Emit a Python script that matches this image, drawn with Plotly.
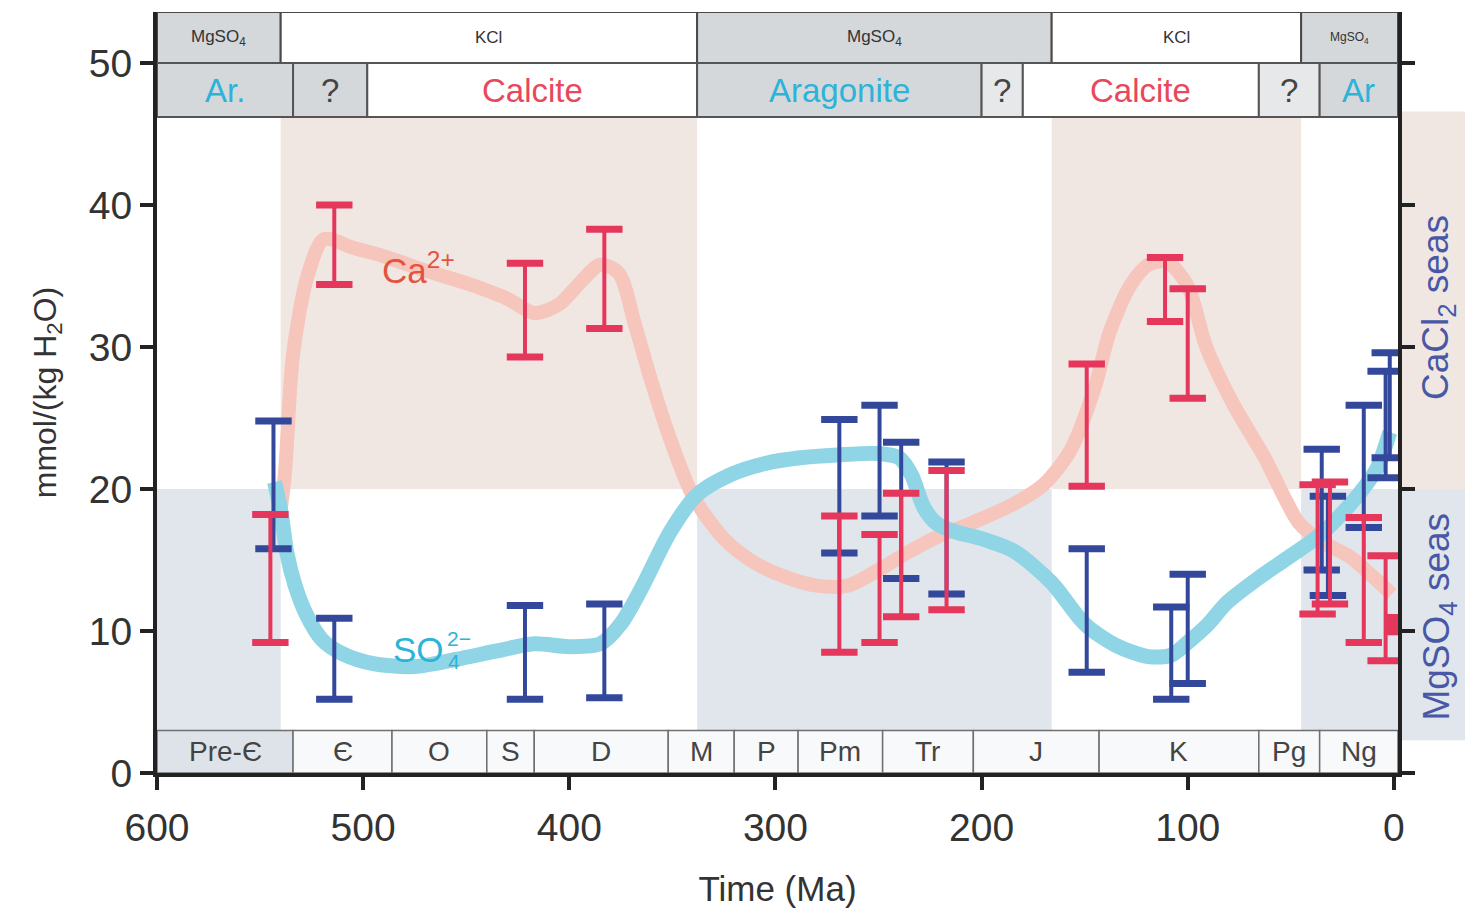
import plotly.graph_objects as go

# ---------------- data ----------------
# smooth model curves (Time in Ma, mmol/kg H2O)
ca_curve_t = [541, 538, 534, 527, 519, 505, 490, 470, 450, 430, 417, 405, 395, 385, 376, 368, 360, 351, 340,
              325, 310, 295, 280, 265, 250, 235, 222, 205, 185, 170, 157, 145, 138, 128, 119, 110, 100, 91,
              78, 63, 46, 35, 21, 10, 1]
ca_curve_v = [17.5, 21, 29.5, 35, 37.6, 37.0, 36.4, 35.4, 34.5, 33.4, 32.4, 33.0, 34.5, 35.8, 35.2, 31.5, 27.5,
              23.5, 19.5, 16.5, 14.8, 13.8, 13.2, 13.2, 14.3, 15.6, 16.6, 17.6, 18.9, 20.3, 22.7, 27.2, 31,
              34.3, 35.8, 36.0, 34.3, 30, 26, 22.3, 17.6, 16.3, 15.2, 13.8, 12.6]

so4_curve_t = [543, 540, 537, 533, 528, 520, 510, 495, 475, 455, 435, 417, 400, 385, 375, 365, 351, 338, 322,
               305, 288, 270, 250, 240, 234, 228, 222, 213, 200, 184, 166, 150, 135, 119, 108, 100, 90, 81,
               65, 53, 40, 34, 25, 15, 8, 2]
so4_curve_v = [20.5, 18.5, 15.5, 13.2, 11.3, 9.4, 8.4, 7.7, 7.5, 8.0, 8.6, 9.1, 8.9, 9.1, 10.5, 13, 17, 19.6,
               21, 21.8, 22.2, 22.4, 22.5, 22.2, 21, 18.7, 17.6, 17.0, 16.5, 15.6, 13.4, 10.5, 9.0, 8.2, 8.3,
               9.2, 10.5, 12, 13.8, 15, 16.3, 17, 18.3, 20, 21.5, 24.0]

# data error bars (low / high)
ca_bar_t = [545, 514, 421.5, 383, 269, 249.5, 239, 217, 149, 111, 100, 37, 31, 14.6, 4]
ca_bar_lo = [9.2, 34.4, 29.3, 31.3, 8.5, 9.2, 11.0, 11.5, 20.2, 31.8, 26.4, 11.2, 11.9, 9.2, 7.9]
ca_bar_hi = [18.2, 40.0, 35.9, 38.3, 18.1, 16.8, 19.7, 21.3, 28.8, 36.3, 34.1, 20.3, 20.5, 18.0, 15.3]

ca_box_t = [1]
ca_box_lo = [9.7]
ca_box_hi = [11.2]

so4_bar_t = [543.5, 514, 421.5, 383, 269, 249.5, 239, 217, 149, 108, 100, 35, 32, 14.6, 4, 2]
so4_bar_lo = [15.8, 5.2, 5.2, 5.3, 15.5, 18.1, 13.7, 12.6, 7.1, 5.2, 6.3, 14.3, 12.5, 17.3, 20.8, 22.2]
so4_bar_hi = [24.8, 10.9, 11.8, 11.9, 24.9, 25.9, 23.3, 21.9, 15.8, 11.7, 14.0, 22.8, 19.5, 25.9, 28.3, 29.6]

# top bands: evaporite salt type and carbonate mineralogy
salt_edges = [600, 540, 338, 166, 45, -2]
salt_labels = ["MgSO<sub>4</sub>", "KCl", "MgSO<sub>4</sub>", "KCl", "MgSO<sub>4</sub>"]
mineral_edges = [600, 534, 498, 338, 200, 180, 65.5, 36, -2]
mineral_labels = ["Ar.", "?", "Calcite", "Aragonite", "?", "Calcite", "?", "Ar"]

# geologic periods
period_edges = [600, 534, 486, 440, 417, 352, 320, 289, 248, 204, 143, 65.5, 36, -2]
period_labels = ["Pre-Є", "Є", "O", "S", "D", "M", "P", "Pm", "Tr", "J", "K", "Pg", "Ng"]

# sea-type shading intervals (Ma)
cacl2_intervals = [(540, 338), (166, 45)]
mgso4_intervals = [(600, 540), (338, 166), (45, -2)]

x_ticks = [600, 500, 400, 300, 200, 100, 0]
y_ticks = [0, 10, 20, 30, 40, 50]

# ---------------- styling ----------------
FONT = "Liberation Sans, Arial, Helvetica, sans-serif"
RED = "#e5365c"
BLUE = "#33479b"
CYAN_TXT = "#2bb3d8"
RED_TXT = "#e9475a"
CA_LINE = "#f6c5bb"
SO4_LINE = "#8fd5e6"
BEIGE = "#f0e7e3"
GREYBLUE = "#e0e6eb"
CELL_GREY = "#d4d8db"
CELL_LIGHT = "#e6e8ea"

Y_TOP = 53.6
ROW1 = (50, Y_TOP)
ROW2 = (46.2, 50)
PBAR = (0, 3.0)

fig = go.Figure()
shapes = []
annotations = []

# background shading
for a, b in cacl2_intervals:
    shapes.append(dict(type="rect", xref="x", yref="y", x0=a, x1=b, y0=20, y1=ROW2[0],
                       fillcolor=BEIGE, line=dict(width=0), layer="below"))
for a, b in mgso4_intervals:
    shapes.append(dict(type="rect", xref="x", yref="y", x0=a, x1=b, y0=PBAR[1], y1=20,
                       fillcolor=GREYBLUE, line=dict(width=0), layer="below"))
# shading behind right-hand labels
shapes.append(dict(type="rect", xref="paper", yref="y", x0=1.0, x1=1.1, y0=20, y1=46.6,
                   fillcolor=BEIGE, line=dict(width=0), layer="below"))
shapes.append(dict(type="rect", xref="paper", yref="y", x0=1.0, x1=1.1, y0=2.3, y1=20,
                   fillcolor=GREYBLUE, line=dict(width=0), layer="below"))

# top row 1: salts
for i, lab in enumerate(salt_labels):
    a, b = salt_edges[i], salt_edges[i + 1]
    fill = CELL_GREY if "MgSO" in lab else "white"
    shapes.append(dict(type="rect", xref="x", yref="y", x0=a, x1=b, y0=ROW1[0], y1=ROW1[1],
                       fillcolor=fill, line=dict(color="#4a4a4a", width=2), layer="below"))
    size = 12 if (a - b) < 60 else 17
    annotations.append(dict(x=(a + b) / 2, y=sum(ROW1) / 2, xref="x", yref="y", text=lab,
                            showarrow=False, font=dict(family=FONT, size=size, color="#333333")))

# top row 2: mineralogy
for i, lab in enumerate(mineral_labels):
    a, b = mineral_edges[i], mineral_edges[i + 1]
    if lab == "?":
        fill = CELL_GREY if i == 1 else CELL_LIGHT
        col = "#444444"
    elif lab == "Calcite":
        fill = "white"
        col = RED_TXT
    else:
        fill = CELL_GREY
        col = CYAN_TXT
    shapes.append(dict(type="rect", xref="x", yref="y", x0=a, x1=b, y0=ROW2[0], y1=ROW2[1],
                       fillcolor=fill, line=dict(color="#555555", width=2), layer="below"))
    annotations.append(dict(x=(a + b) / 2, y=sum(ROW2) / 2, xref="x", yref="y", text=lab,
                            showarrow=False, font=dict(family=FONT, size=33, color=col)))

# bottom period bar
for i, lab in enumerate(period_labels):
    a, b = period_edges[i], period_edges[i + 1]
    fill = "#dde3e8" if i == 0 else "#f8f9fa"
    shapes.append(dict(type="rect", xref="x", yref="y", x0=a, x1=b, y0=PBAR[0], y1=PBAR[1],
                       fillcolor=fill, line=dict(color="#707070", width=1.5), layer="below"))
    annotations.append(dict(x=(a + b) / 2, y=sum(PBAR) / 2, xref="x", yref="y", text=lab,
                            showarrow=False, font=dict(family=FONT, size=28, color="#444444")))

# model curves
fig.add_trace(go.Scatter(x=ca_curve_t, y=ca_curve_v, mode="lines",
                         line=dict(color=CA_LINE, width=14, shape="spline", smoothing=0.8),
                         hoverinfo="skip", showlegend=False))
fig.add_trace(go.Scatter(x=so4_curve_t, y=so4_curve_v, mode="lines",
                         line=dict(color=SO4_LINE, width=15, shape="spline", smoothing=0.8),
                         hoverinfo="skip", showlegend=False))


def add_bars(ts, lo, hi, color, thick=4, cap=True):
    mid = [(l + h) / 2 for l, h in zip(lo, hi)]
    up = [h - m for h, m in zip(hi, mid)]
    dn = [m - l for l, m in zip(lo, mid)]
    fig.add_trace(go.Scatter(x=ts, y=mid, mode="markers", marker=dict(size=1, opacity=0),
                             error_y=dict(type="data", symmetric=False, array=up, arrayminus=dn,
                                          color=color, thickness=thick, width=0),
                             hoverinfo="skip", showlegend=False))
    if cap:
        fig.add_trace(go.Scatter(x=list(ts) + list(ts), y=list(lo) + list(hi), mode="markers",
                                 marker=dict(symbol="line-ew", size=26,
                                             line=dict(color=color, width=7)),
                                 hoverinfo="skip", showlegend=False))


add_bars(so4_bar_t, so4_bar_lo, so4_bar_hi, BLUE)
add_bars(ca_bar_t, ca_bar_lo, ca_bar_hi, RED)
add_bars(ca_box_t, ca_box_lo, ca_box_hi, RED, thick=14, cap=False)

# curve labels
annotations.append(dict(x=473, y=35.6, xref="x", yref="y", text="Ca<sup>2+</sup>", showarrow=False,
                        font=dict(family=FONT, size=35, color="#e6523f")))
annotations.append(dict(x=460, y=8.7, xref="x", yref="y", text="SO", showarrow=False, xanchor="right",
                        font=dict(family=FONT, size=35, color=CYAN_TXT)))
annotations.append(dict(x=460, y=8.7, xref="x", yref="y", text="2−", showarrow=False, xanchor="left",
                        yshift=11, xshift=-1, font=dict(family=FONT, size=21, color=CYAN_TXT)))
annotations.append(dict(x=460, y=8.7, xref="x", yref="y", text="4", showarrow=False, xanchor="left",
                        yshift=-12, xshift=0, font=dict(family=FONT, size=21, color=CYAN_TXT)))

# right-side labels
annotations.append(dict(x=1.053, y=32.8, xref="paper", yref="y", text="CaCl<sub>2</sub> seas",
                        textangle=-90, showarrow=False, font=dict(family=FONT, size=37, color="#4858a6")))
annotations.append(dict(x=1.053, y=11.0, xref="paper", yref="y", text="MgSO<sub>4</sub> seas",
                        textangle=-90, showarrow=False, font=dict(family=FONT, size=37, color="#4858a6")))

# page has an 8px body margin, so the figure is offset by (8, 8)
fig.update_layout(
    width=1457, height=902,
    margin=dict(l=149, r=67, t=4, b=137),
    paper_bgcolor="white", plot_bgcolor="white",
    font=dict(family=FONT, color="#333333"),
    shapes=shapes, annotations=annotations, showlegend=False,
    xaxis=dict(range=[600, -2], tickvals=x_ticks, ticktext=[str(v) for v in x_ticks],
               showgrid=False, zeroline=False, showline=True, linewidth=4, linecolor="#222222",
               ticks="outside", ticklen=13, tickwidth=4, tickcolor="#222222",
               tickfont=dict(family=FONT, size=39, color="#333333"), ticklabelstandoff=4,
               title=dict(text="Time (Ma)", font=dict(family=FONT, size=35, color="#333333"), standoff=30)),
    yaxis=dict(range=[0, Y_TOP], tickvals=y_ticks, showgrid=False, zeroline=False,
               showline=True, linewidth=4, linecolor="#222222", mirror="ticks",
               ticks="outside", ticklen=13, tickwidth=4, tickcolor="#222222",
               tickfont=dict(family=FONT, size=39, color="#333333"),
               title=dict(text="mmol/(kg H<sub>2</sub>O)", font=dict(family=FONT, size=32, color="#333333"),
                          standoff=24)),
)

fig.write_html("out.html")
